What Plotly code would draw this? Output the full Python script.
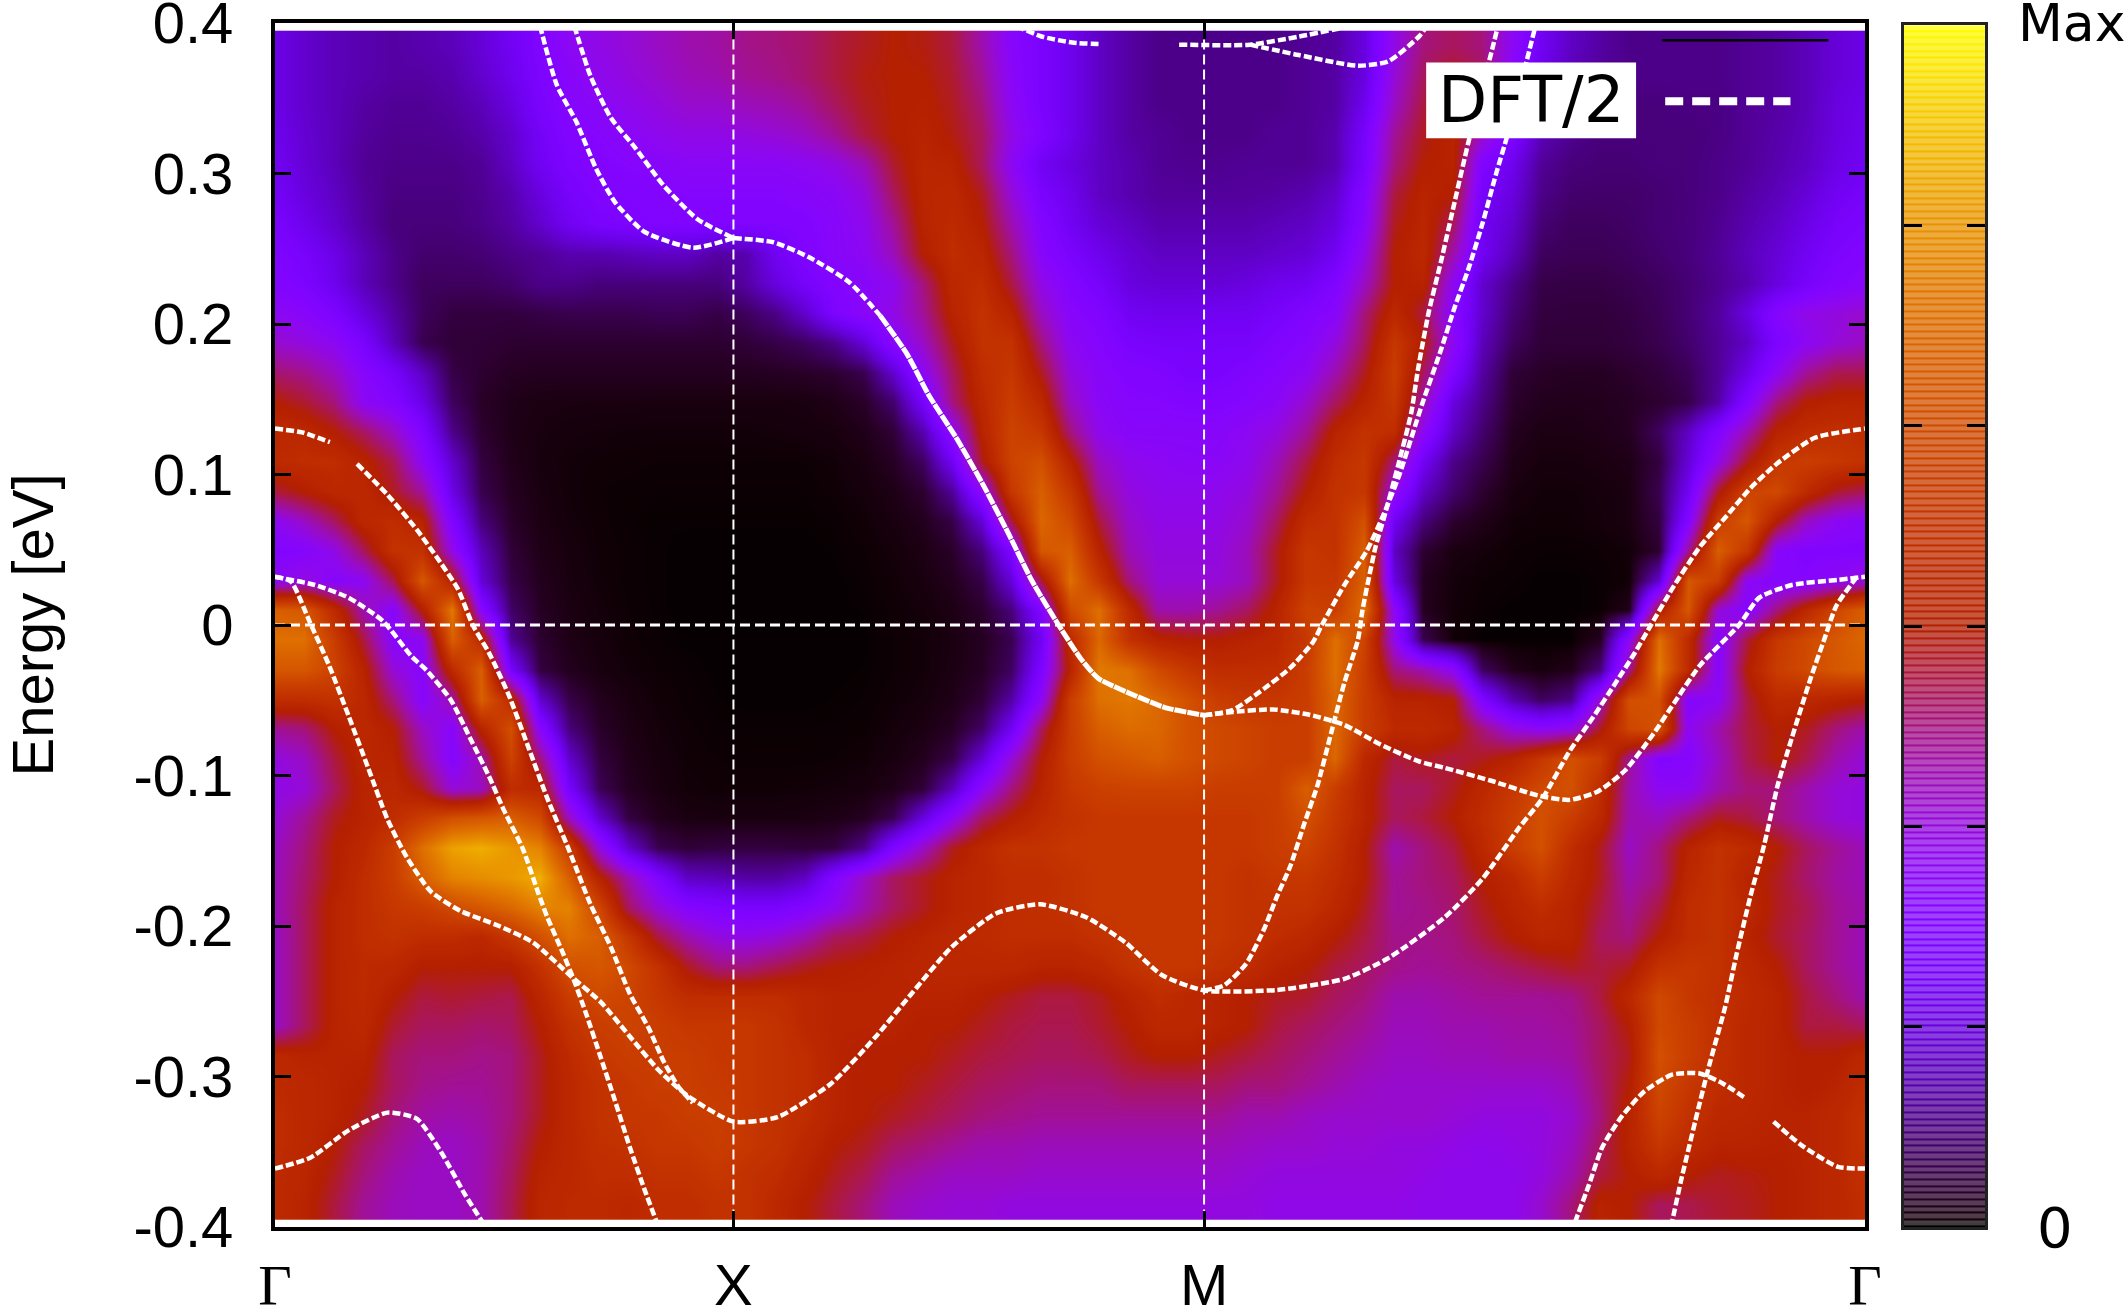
import math

import numpy as np
import plotly.graph_objects as go

# k path in arbitrary length units, high symmetry points
k_gamma_left = 0
k_x_point = 338.5
k_m_point = 686
k_gamma_right = 1174
k_ticks = [k_gamma_left, k_x_point, k_m_point, k_gamma_right]
k_labels = [
    '<span style="font-family:Liberation Serif">Γ</span>',
    'X',
    'M',
    '<span style="font-family:Liberation Serif">Γ</span>',
]

energy_ticks = [-0.4, -0.3, -0.2, -0.1, 0, 0.1, 0.2, 0.3, 0.4]
energy_labels = ['-0.4', '-0.3', '-0.2', '-0.1', '0', '0.1', '0.2', '0.3', '0.4']

# spectral weight, percent of max, top row first
k_grid = np.linspace(0, 1174, 55)
energy_grid = np.linspace(0.385, -0.385, 40)
spectral = [
    [18,15,13,12,11,12,13,16,20,25, 30,32,34,36,38,39,41,42,43,46, 48,50,49,46,38,28,23,19,14,11, 9,9,9,9,9,10,11,17,32,42, 44,42,30,20,14,11,9,9,9,9, 10,11,13,16,18],
    [18,15,13,12,11,11,12,15,19,24, 28,31,33,35,37,38,40,41,43,46, 49,50,50,47,40,29,23,19,14,11, 9,9,9,9,9,10,11,17,34,44, 48,44,28,18,13,10,9,9,9,9, 10,11,13,16,18],
    [18,15,13,11,10,10,11,13,17,23, 27,29,31,33,35,35,37,38,40,44, 48,50,51,48,42,30,23,19,14,11, 9,9,9,9,9,10,11,19,36,46, 50,40,26,15,11,9,8,8,8.5,8.5, 10,11,13,17,19],
    [19,15.5,13,10.5,9.5,9.5,10,11.5,15,21, 26,27,29,31,32,32,33,34,36,40, 46,50,52,49,44,32,25,19,14,11, 10,9,9,9,10,10,12,22,40,48, 52,36,24,13,9.5,8,8,8,8,8.5, 10,11.5,13.5,17,19.5],
    [20,16,13,10,9,9,9,10,14,20, 24,26,27,28,29,29,29,29,30,32, 37,47,53,52,44,30,20,17,14,12, 10,9.5,9.5,10,10,10,12,23,42,50, 52,25,19,10,8,7.5,7.5,8,8,9, 10,12,14,18,20],
    [21,17,14,10.5,8.5,8.5,8.5,9.5,12,17, 22,25,25,26,27,27,27,27,28,29, 33,44,53,54,48,34,23,19,14,12, 10.5,10.5,10.5,10.5,11,12,15,26,46,52, 50,22,17,9,7,6.8,6.8,7.4,8,9, 11,13,16,20,22],
    [23,19,15,11,8,8,8,9,11,15, 20,23,24,25,25,25,25,25,26,28, 31,40,52,55,50,38,26,20,16,14, 12,12,12,12,13,14,17,28,48,53, 44,20,15,7.5,6,6,6.5,7.5,8,9.5, 12,14.5,18,22,24],
    [25,22,18,13,9,7,7,7.5,9,10, 12,12,13,14,14,11,12,20,25,28, 30,37,50,56,53,42,28,23,19,16, 14,14,14,14,15,16,20,32,50,54, 38,20,13,6,5.5,5.5,6,7,8,10, 13,16,20,24,26],
    [26,24,19,13,9,6,6,6,7,9, 9,8,8,8,8,8,11,17,22,26, 28,31,42,54,56,46,32,26,22,17, 16,16,16,17,19,20,25,36,50,52, 30,15,9,4.6,4.4,4.4,5,6,7.5,9.5, 12,17,22,26,28],
    [30,28,24,17,11,6,4,4,4,4.5, 5,5,5,5.5,5.5,4.5,6,9,15,24, 29,32,40,52,58,52,36,28,25,20, 19,19,20,20,22,25,28,42,54,46, 28,15,7.5,4,3.8,3.8,4.3,5.5,7.5,10.5, 17,27,32,33,35],
    [35,33,30,23,13,5,3.5,3.5,3,3, 3,3,3,3,3,3,3.5,4.5,6,9, 16,28,36,48,58,58,42,30,27,23, 22,22,22,22,25,27,33,44,60,50, 30,13,6,3.5,3.5,3.5,4,5,7,10, 14,24,30,34,36],
    [43,41,36,28,22,14,4.5,3,2.2,2, 2,2,2,2,2,2,2,2.2,2.5,3, 5,15,30,44,56,60,48,33,28,26, 25,23,23,25,27,30,38,48,62,44, 25,11,3.5,2.5,2.2,2.2,2.8,3.8,5.5,10, 18,30,40,45,45],
    [50,47,42,30,26,18,6,2.5,1.5,1.1, 1,1,1,0.9,0.9,0.9,0.9,0.9,1,1.4, 2.6,7,22,42,54,62,54,36,29,27, 27,26,26,27,29,35,44,52,60,38, 17,9,2.8,1.8,1.6,1.8,2.2,3,4.5,11, 26,42,50,52,52],
    [54,54,50,44,36,25,9,3,1.4,0.9, 0.7,0.6,0.5,0.5,0.5,0.5,0.5,0.6,0.7,0.9, 1.5,3.4,12,30,52,64,60,42,31,28, 28,28,28,30,33,40,52,58,56,30, 14,7,2,1.2,1.2,1.5,2,6,14,26, 38,52,56,57,56],
    [55,56,56,52,45,30,15,4,1.6,0.8, 0.5,0.4,0.35,0.3,0.3,0.3,0.3,0.3,0.3,0.5, 1,2.2,6,20,48,64,68,52,36,31, 30,29,29,31,37,46,56,60,42,20, 9,5,1.4,0.8,0.8,1,1.4,4,16,32, 48,60,62,60,58],
    [46,50,54,54,48,40,18,5,2,1, 0.5,0.3,0.25,0.2,0.2,0.2,0.2,0.2,0.2,0.35, 0.7,1.3,3,10,30,60,72,60,40,33, 31,31,31,33,40,50,58,60,32,14, 7,3,0.9,0.5,0.5,0.7,1,5,20,48, 64,66,55,47,44],
    [30,36,44,54,56,52,25,8,2.5,1.1, 0.6,0.35,0.2,0.15,0.15,0.15,0.15,0.15,0.15,0.2, 0.45,0.9,1.8,4.5,16,46,74,66,46,35, 32,32,32,35,44,56,58,68,20,8, 3,1.5,0.5,0.4,0.4,0.6,1,4,26,62, 70,50,36,30,28],
    [26,27,32,44,58,58,32,13,3.5,1.4, 0.8,0.4,0.25,0.15,0.1,0.1,0.1,0.1,0.1,0.15, 0.3,0.6,1.2,2.6,8,24,70,72,52,37, 33,33,33,37,48,60,58,72,14,3, 1,0.6,0.3,0.2,0.2,0.3,0.5,3,40,72, 60,28,26,26,26],
    [30,33,28,30,45,70,52,16,4.5,1.8, 0.9,0.45,0.25,0.15,0.1,0.1,0.1,0.1,0.1,0.1, 0.2,0.45,0.9,1.8,4.5,16,46,76,60,42, 34,34,34,37,48,60,60,72,17,2, 0.6,0.3,0.2,0.1,0.1,0.2,0.4,15,70,62, 30,27,27,30,34],
    [72,70,55,38,28,50,78,28,6.5,2.2, 1.1,0.6,0.3,0.15,0.1,0.1,0.1,0.1,0.1,0.1, 0.15,0.35,0.6,1.2,2.8,8,25,66,76,55, 38,38,40,44,52,64,62,76,30,2, 0.5,0.2,0.1,0.1,0.1,0.2,1.5,50,70,34, 27,42,54,65,72],
    [76,76,62,46,28,30,72,55,10,3, 1.3,0.7,0.35,0.2,0.1,0.1,0.1,0.1,0.1,0.1, 0.1,0.3,0.5,1,2,5,20,55,74,58, 52,50,50,52,54,60,76,64,32,5, 0.4,0.1,0.1,0.1,0.1,2,30,76,55,28, 46,60,66,70,74],
    [70,70,64,52,34,28,55,72,22,4, 1.8,0.9,0.5,0.3,0.2,0.1,0.1,0.1,0.1,0.1, 0.15,0.3,0.5,1.1,2.2,6,24,52,78,76, 66,60,56,56,56,62,76,62,42,38, 30,6,1.6,0.8,1.6,8,40,78,55,28, 50,62,66,70,72],
    [56,56,58,54,42,28,38,72,55,15, 4.6,1.8,0.9,0.45,0.25,0.15,0.1,0.1,0.1,0.15, 0.2,0.4,0.7,1.4,3.4,11,30,62,76,78, 74,68,62,60,60,62,74,62,52,52, 50,25,12,6,9,35,68,68,27,30, 46,55,54,52,50],
    [40,42,50,54,50,36,28,52,68,28, 8,2.6,1.2,0.6,0.35,0.2,0.2,0.2,0.2,0.2, 0.25,0.6,1.1,2.2,6.5,20,44,62,72,75, 74,68,66,64,62,62,74,62,55,55, 52,42,33,30,32,48,65,68,30,38, 46,50,48,42,38],
    [33,36,46,53,52,40,27,38,64,42, 15,4,1.6,0.8,0.4,0.3,0.25,0.25,0.25,0.3, 0.45,0.9,1.8,4.5,16,34,50,62,68,70, 72,68,66,64,62,62,74,54,46,48, 46,48,52,60,68,62,40,26,27,36, 45,50,45,38,34],
    [32,34,44,52,54,48,34,36,56,54, 22,5.5,2,1,0.5,0.4,0.4,0.4,0.5,0.6, 0.8,1.5,3.5,13,30,42,52,60,63,64, 64,64,62,62,62,72,62,52,44,44, 48,54,60,66,68,56,38,30,30,38, 42,42,38,34,33],
    [34,40,48,52,56,62,68,70,72,66, 36,15,4.2,1.7,1,0.9,0.9,0.9,1,1.3, 2,5,17,30,44,50,55,58,60,60, 60,60,60,60,62,68,60,52,44,46, 50,56,62,68,62,54,38,36,42,48, 46,42,38,34,33],
    [36,42,50,54,62,76,86,88,84,80, 62,33,15,5,3.5,4,4,4,3.5,4, 9,25,36,48,54,58,58,60,60,60, 60,60,60,60,62,64,58,50,38,42, 46,54,62,68,56,48,36,42,52,58, 55,50,44,40,37],
    [37,43,50,56,62,72,80,82,84,88, 72,52,38,25,14,13,11,11,14,26, 36,44,48,52,54,56,56,58,60,60, 60,60,60,58,60,60,56,50,40,42, 44,50,54,62,54,48,38,42,54,58, 52,48,43,39,37],
    [37,44,52,56,60,62,66,70,74,80, 80,65,44,34,27,25,23,23,26,31, 38,44,48,52,54,56,57,58,60,60, 60,60,60,58,58,58,54,48,40,41, 43,48,52,56,52,46,40,46,56,58, 54,48,45,40,38],
    [36,44,52,56,58,56,56,54,60,68, 76,72,60,46,38,33,32,34,38,44, 46,50,52,54,55,56,56,56,58,60, 60,60,60,58,56,54,50,46,41,41, 42,46,50,53,52,44,42,50,56,58, 52,47,44,40,37],
    [36,44,52,55,54,50,50,50,50,58, 68,70,66,58,48,42,42,45,48,50, 51,52,53,54,54,54,52,52,54,58, 60,60,58,56,52,50,46,44,41,40, 41,42,44,46,48,46,48,58,60,58, 54,50,44,40,37],
    [36,44,52,55,50,46,47,46,45,53, 62,66,64,60,56,56,56,56,54,52, 52,52,52,52,50,48,46,46,48,52, 56,54,52,50,48,47,44,42,38,38, 39,40,40,40,41,46,54,66,60,57, 55,52,46,42,38],
    [36,44,52,54,47,44,44,43,44,50, 58,62,64,62,60,60,60,58,54,52, 52,52,50,50,48,46,45,45,47,50, 54,54,52,50,46,44,42,40,37,37, 38,38,39,39,40,44,50,66,62,57, 54,52,46,46,44],
    [54,52,52,52,44,42,42,41,42,48, 55,60,62,62,62,60,60,58,56,52, 50,50,50,48,46,45,44,44,45,48, 50,50,48,46,44,42,40,38,36,36, 37,37,38,38,39,44,48,68,62,57, 54,52,50,50,54],
    [55,54,52,50,44,41,40,40,42,48, 54,58,60,62,62,61,60,58,56,52, 50,50,48,46,44,43,42,42,42,44, 44,44,44,42,42,40,38,36,35,35, 35,35,35,35,37,43,50,66,60,56, 54,52,50,52,56],
    [56,54,52,48,42,39,38,39,42,48, 54,58,60,60,62,62,60,58,56,52, 50,48,46,44,42,41,40,40,40,40, 40,40,40,38,38,36,35,35,35,35, 34,33,33,33,35,42,52,64,58,54, 53,52,52,54,58],
    [56,54,50,44,40,37,36,38,43,50, 54,57,58,60,60,62,60,58,54,50, 48,44,42,40,38,38,37,37,37,37, 37,37,37,36,35,35,34,34,33,33, 32,31,32,33,36,44,52,60,55,52, 52,51,52,54,58],
    [55,53,48,42,38,36,36,38,44,52, 54,56,56,58,58,60,58,56,52,48, 45,40,38,36,36,36,35,35,35,35, 35,35,35,34,33,33,33,33,33,32, 31,31,31,33,38,46,50,54,50,48, 49,50,52,54,57],
    [55,52,46,40,37,36,36,38,45,53, 55,55,54,56,56,58,58,54,50,46, 42,37,35,34,34,33,33,33,33,33, 33,33,33,33,32,32,32,32,32,31, 31,31,31,35,42,52,50,44,45,47, 48,50,52,54,56],
]

# DFT/2 bands, one k list and one energy list per dashed curve
band_a1_k = [0, 20, 40.5]
band_a1_e = [0.1305, 0.128, 0.1215]
band_a2_k = [60.6, 83, 105, 121, 135, 146, 158, 172.6, 187, 201, 215.5, 233, 248, 262, 276, 287, 298, 308.5]
band_a2_e = [0.107, 0.0866, 0.063, 0.043, 0.024, 0, -0.0185, -0.0465, -0.081, -0.115, -0.146, -0.1856, -0.214, -0.245, -0.268, -0.29, -0.307, -0.3175]
band_b_k = [0, 29.5, 54.6, 79.6, 101, 111.8, 129.7, 144, 158, 169, 183, 194, 201, 212, 221, 230, 240.6, 251, 262, 273, 282]
band_b_e = [0.032, 0.0266, 0.018, 0.0027, -0.021, -0.03, -0.0496, -0.075, -0.1005, -0.123, -0.1487, -0.177, -0.194, -0.2167, -0.2366, -0.259, -0.2875, -0.316, -0.347, -0.3755, -0.397]
band_c_k = [0, 11.6, 26, 40, 54.6, 68.8, 83, 97.4, 115, 137, 165.5, 190.6, 219, 240.6, 262, 283.5, 305, 338.5, 371, 410.7, 443.7, 470, 499.6, 532.7, 565, 598.5, 628, 654.5, 686, 740, 789.6, 822.7, 864, 891.6, 918.8, 936, 956, 973.5, 990, 1004, 1016, 1031.6, 1052, 1072, 1089.5, 1109.6, 1137, 1174]
band_c_e = [0.032, 0.029, 0.0013, -0.027, -0.061, -0.095, -0.129, -0.1545, -0.177, -0.19, -0.2, -0.211, -0.2337, -0.2506, -0.2734, -0.296, -0.313, -0.33, -0.327, -0.3046, -0.2734, -0.245, -0.214, -0.1915, -0.1856, -0.194, -0.211, -0.2324, -0.2428, -0.2425, -0.2351, -0.221, -0.194, -0.1686, -0.1345, -0.115, -0.0837, -0.061, -0.0383, -0.0186, 0, 0.024, 0.0518, 0.0726, 0.091, 0.1076, 0.1244, 0.1305]
band_d_k = [0, 26, 54.6, 83, 104.6, 122.5, 140, 153]
band_d_e = [-0.3612, -0.354, -0.3356, -0.324, -0.328, -0.35, -0.378, -0.3965]
band_e_k = [195.7, 208, 222.7, 237, 251, 272.7, 308.6, 338.5]
band_e_e = [0.398, 0.359, 0.334, 0.3034, 0.281, 0.2613, 0.2507, 0.2571]
band_f_k = [221, 233, 248, 265.7, 287, 312, 338.5]
band_f_e = [0.398, 0.3647, 0.337, 0.3174, 0.292, 0.2696, 0.2571]
band_g1_k = [338.5, 368, 394, 424, 447]
band_g1_e = [0.2571, 0.2543, 0.2445, 0.2278, 0.2054]
band_g2_k = [447, 466.7, 483, 503, 522.6, 542, 559, 578.6, 595, 608, 634.7, 657.8, 686]
band_g2_e = [0.2054, 0.18, 0.1523, 0.1244, 0.0936, 0.06, 0.0292, 0, -0.0224, -0.0355, -0.0468, -0.055, -0.06]
band_h_k = [686, 707, 730, 749.8, 766.5, 773, 789.6, 806, 819, 830, 847, 861, 871, 881, 891.6, 901.7, 910, 920.6, 930.7]
band_h_e = [-0.06, -0.0565, -0.0425, -0.0284, -0.0113, 0, 0.0266, 0.049, 0.0743, 0.0992, 0.1467, 0.183, 0.211, 0.236, 0.2668, 0.3, 0.3254, 0.362, 0.398]
band_i_k = [686, 700.7, 717, 730, 740, 749.8, 760, 769.8, 779.7, 789.6, 799.6, 803, 812.6, 819, 829, 839, 843.8, 852, 861, 871, 881, 900, 903]
band_i_e = [-0.2428, -0.2395, -0.2252, -0.2027, -0.18, -0.16, -0.132, -0.1064, -0.0723, -0.0383, -0.01, 0.01, 0.0518, 0.0717, 0.105, 0.141, 0.169, 0.2083, 0.2417, 0.281, 0.32, 0.387, 0.398]
band_j_k = [686, 707, 737, 763, 789.6, 816, 845, 864, 898, 932.6, 956, 976.8, 997, 1017.8, 1034.7, 1052, 1081, 1096, 1120, 1154, 1174]
band_j_e = [-0.06, -0.0578, -0.0561, -0.0595, -0.0664, -0.0793, -0.0907, -0.095, -0.1035, -0.1133, -0.1162, -0.1106, -0.0965, -0.0723, -0.0496, -0.027, 0, 0.0182, 0.0266, 0.03, 0.032]
band_k_k = [1168, 1152.8, 1143.8, 1133.9, 1120, 1109.6, 1099.6, 1089.5, 1079, 1070.8, 1058.8, 1048.6, 1038, 1031.5]
band_k_e = [0.032, 0.0126, -0.01, -0.0354, -0.075, -0.1064, -0.146, -0.18, -0.2196, -0.2537, -0.2932, -0.33, -0.37, -0.397]
band_l1_k = [959.8, 970, 980, 994, 1011, 1031.5, 1052, 1069, 1086]
band_l1_e = [-0.397, -0.3725, -0.347, -0.327, -0.31, -0.2988, -0.298, -0.3046, -0.3145]
band_l2_k = [1106.5, 1127, 1154, 1174]
band_l2_e = [-0.33, -0.3456, -0.36, -0.3612]
band_m_k = [547.5, 565.5, 588.6, 610]
band_m_e = [0.398, 0.3912, 0.387, 0.386]
band_n_k = [667.6, 720, 756, 794.5]
band_n_e = [0.3856, 0.3856, 0.391, 0.398]
band_o_k = [720, 756, 799.4, 822, 845, 850.6]
band_o_e = [0.3856, 0.3787, 0.3716, 0.3745, 0.3913, 0.398]

dashed_bands = [
    (band_a1_k, band_a1_e), (band_a2_k, band_a2_e), (band_b_k, band_b_e), (band_c_k, band_c_e),
    (band_d_k, band_d_e), (band_e_k, band_e_e), (band_f_k, band_f_e), (band_g1_k, band_g1_e),
    (band_h_k, band_h_e), (band_i_k, band_i_e), (band_j_k, band_j_e), (band_k_k, band_k_e),
    (band_l1_k, band_l1_e), (band_l2_k, band_l2_e), (band_m_k, band_m_e), (band_n_k, band_n_e),
    (band_o_k, band_o_e),
]

# gnuplot default pm3d palette (rgbformulae 7,5,15), extra stops near zero where it moves fast
def pm3d_color(gray):
    r = math.sqrt(gray)
    g = gray ** 3
    b = max(math.sin(2 * math.pi * gray), 0)
    return f'rgb({r * 255:.0f},{g * 255:.0f},{b * 255:.0f})'


scale_stops = [i / 1000 for i in range(0, 50, 2)] + [i / 100 for i in range(5, 101)]
pm3d_scale = [[s, pm3d_color(s)] for s in scale_stops]

fig = go.Figure()

fig.add_trace(go.Heatmap(
    x=k_grid,
    y=energy_grid[::-1],
    z=spectral[::-1],
    zmin=0,
    zmax=100,
    zsmooth='best',
    colorscale=pm3d_scale,
    showscale=False,
    hoverinfo='skip',
))

# guide lines at the symmetry points and the Fermi level
for k_line in [k_x_point, k_m_point]:
    fig.add_trace(go.Scatter(x=[k_line, k_line], y=[-0.395, 0.395], mode='lines', hoverinfo='skip',
                             line=dict(color='white', width=2, dash='10px,5px')))
fig.add_trace(go.Scatter(x=[0, 1174], y=[0, 0], mode='lines', hoverinfo='skip',
                         line=dict(color='white', width=3, dash='10px,5px')))

for band_k, band_e in dashed_bands:
    fig.add_trace(go.Scatter(x=band_k, y=band_e, mode='lines', hoverinfo='skip',
                             line=dict(color='white', width=4.5, dash='8px,3px', shape='spline', smoothing=0.6)))
# this stretch reads as nearly solid
fig.add_trace(go.Scatter(x=band_g2_k, y=band_g2_e, mode='lines', hoverinfo='skip',
                         line=dict(color='white', width=5, dash='12px,1px', shape='spline', smoothing=0.6)))

# colour key: gradient plus paler stripes, drawn on its own axes
key_levels = np.linspace(0, 1, 180)
fig.add_trace(go.Heatmap(
    x=[0, 1],
    y=key_levels,
    z=[[v, v] for v in key_levels],
    zmin=0,
    zmax=1,
    colorscale=pm3d_scale,
    showscale=False,
    hoverinfo='skip',
    xaxis='x2',
    yaxis='y2',
))
stripe_edges = np.sort(np.concatenate([np.arange(180) / 180, (np.arange(180) + 0.3) / 180, [1.0]]))
stripe_z = [[(i % 2), (i % 2)] for i in range(len(stripe_edges) - 1)]
fig.add_trace(go.Heatmap(
    x=[0, 1],
    y=stripe_edges,
    z=stripe_z,
    zmin=0,
    zmax=1,
    colorscale=[[0, 'rgba(255,255,255,0)'], [1, 'rgba(255,255,255,0.24)']],
    showscale=False,
    hoverinfo='skip',
    xaxis='x2',
    yaxis='y2',
))

fig.update_layout(
    width=2125,
    height=1309,
    margin=dict(l=275, r=140, t=23, b=82),
    paper_bgcolor='white',
    plot_bgcolor='white',
    showlegend=False,
    font=dict(family='Liberation Sans', size=58, color='black'),
    xaxis=dict(
        domain=[0, 0.9298],
        range=[0, 1174],
        automargin=False,
        tickvals=k_ticks,
        ticktext=k_labels,
        ticks='inside',
        ticklen=16,
        tickwidth=2.5,
        tickcolor='black',
        showline=True,
        linecolor='black',
        linewidth=4,
        mirror='ticks',
        showgrid=False,
        zeroline=False,
        tickangle=0,
        ticklabelstandoff=4,
        ticklabeloverflow='allow',
    ),
    yaxis=dict(
        range=[-0.4, 0.4],
        automargin=False,
        tickvals=energy_ticks,
        ticktext=energy_labels,
        ticks='inside',
        ticklen=16,
        tickwidth=2.5,
        tickcolor='black',
        showline=True,
        linecolor='black',
        linewidth=4,
        mirror='ticks',
        showgrid=False,
        zeroline=False,
        ticklabelstandoff=26,
        ticklabeloverflow='allow',
        title=dict(text='Energy [eV]', standoff=79, font=dict(size=58)),
    ),
    xaxis2=dict(
        domain=[0.9526, 1],
        range=[0, 1],
        anchor='y2',
        automargin=False,
        showticklabels=False,
        ticks='',
        showline=True,
        linecolor='#222222',
        linewidth=3,
        mirror=True,
        showgrid=False,
        zeroline=False,
    ),
    yaxis2=dict(
        domain=[0, 0.998],
        range=[0, 1],
        anchor='x2',
        automargin=False,
        tickvals=[1 / 6, 2 / 6, 3 / 6, 4 / 6, 5 / 6],
        showticklabels=False,
        ticks='inside',
        ticklen=18,
        tickwidth=2.5,
        tickcolor='black',
        showline=True,
        linecolor='#222222',
        linewidth=3,
        mirror='ticks',
        showgrid=False,
        zeroline=False,
    ),
)

# legend: black key above the box, white box over the bands, dashed white key
fig.add_shape(type='line', xref='x', yref='y', x0=1024, x1=1147, y0=0.3885, y1=0.3885,
              line=dict(color='black', width=2.5), layer='above')
fig.add_shape(type='line', xref='x', yref='y', x0=1026.5, x1=1119, y0=0.348, y1=0.348,
              line=dict(color='white', width=8, dash='18px,9px'), layer='above')
fig.add_shape(type='rect', xref='x', yref='y', x0=850, x1=1005, y0=0.3234, y1=0.3738,
              fillcolor='white', line=dict(width=0), layer='above')
fig.add_annotation(x=927.5, y=0.3486, xref='x', yref='y', text='DFT/2', showarrow=False,
                   xanchor='center', yanchor='middle',
                   font=dict(family='DejaVu Sans', size=64, color='black'))

# key end labels, paper fractions of the plot area
area_w = 2125 - 275 - 140
area_h = 1309 - 23 - 82
fig.add_annotation(x=(2072 - 275) / area_w, y=1, xref='paper', yref='paper', text='Max', showarrow=False,
                   xanchor='center', yanchor='middle',
                   font=dict(family='DejaVu Sans', size=52, color='black'))
fig.add_annotation(x=(2055 - 275) / area_w, y=0, xref='paper', yref='paper', text='0', showarrow=False,
                   xanchor='center', yanchor='middle',
                   font=dict(family='DejaVu Sans', size=56, color='black'))

fig.write_html('out.html', post_script="document.body.style.margin='0';",
               config={'displayModeBar': False})
